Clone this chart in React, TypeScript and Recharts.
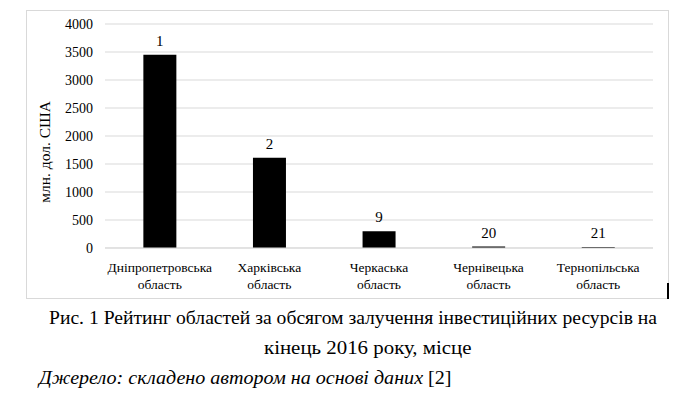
import { BarChart, Bar, XAxis, YAxis, CartesianGrid, LabelList, Label } from "recharts";

const regions = [
  "Дніпропетровська",
  "Харківська",
  "Черкаська",
  "Чернівецька",
  "Тернопільська",
];
const investment = [3450, 1610, 300, 25, 20];
const ranks = ["1", "2", "9", "20", "21"];
const yTicks = [0, 500, 1000, 1500, 2000, 2500, 3000, 3500, 4000];

const chartData = regions.map((name, i) => ({
  name,
  value: investment[i],
  rank: ranks[i],
}));

const FONT = "'Liberation Serif', 'Times New Roman', serif";

const RegionTick = ({ x, y, payload }: any) => (
  <text x={x} y={y} textAnchor="middle" style={{ fontFamily: FONT }} fontSize={13.5} fill="#000">
    <tspan x={x} dy={16}>{payload.value}</tspan>
    <tspan x={x} dy={17}>область</tspan>
  </text>
);

const captionLine = (left: number, top: number, scale: number): React.CSSProperties => ({
  position: "absolute",
  left,
  top,
  fontSize: 18,
  whiteSpace: "nowrap",
  color: "#000",
  fontFamily: FONT,
  transform: `scaleX(${scale})`,
  transformOrigin: "left top",
});

const App = () => {
  return (
    <div style={{ position: "absolute", left: 0, top: 0, width: 690, height: 397, background: "#fff", fontFamily: FONT }}>
      <div style={{ position: "absolute", left: 26, top: 10, width: 641, height: 287, border: "1px solid #d9d9d9" }}>
        <BarChart
          width={641}
          height={287}
          data={chartData}
          barCategoryGap="35%"
          style={{ fontFamily: FONT }}
          margin={{ top: 13, right: 15, left: 18, bottom: 0 }}
        >
          <CartesianGrid vertical={false} stroke="#d9d9d9" />
          <XAxis
            dataKey="name"
            height={50}
            axisLine={{ stroke: "#d9d9d9" }}
            tickLine={false}
            interval={0}
            tick={<RegionTick />}
          />
          <YAxis
            width={60}
            domain={[0, 4000]}
            ticks={yTicks}
            axisLine={false}
            tickLine={false}
            tickMargin={6}
            tick={{ fontFamily: FONT, fontSize: 14, fill: "#000" }}
          >
            <Label
              content={({ viewBox }: any) => {
                const cx = viewBox.x + 1;
                const cy = viewBox.y + viewBox.height / 2 + 16;
                return (
                  <text
                    x={cx}
                    y={cy}
                    transform={`rotate(-90 ${cx} ${cy})`}
                    textAnchor="middle"
                    dominantBaseline="middle"
                    style={{ fontFamily: FONT }}
                    fontSize={15.5}
                    fill="#000"
                  >
                    млн. дол. США
                  </text>
                );
              }}
            />
          </YAxis>
          <Bar dataKey="value" fill="#000" isAnimationActive={false}>
            <LabelList dataKey="rank" position="top" offset={9} style={{ fontFamily: FONT }} fontSize={15} fill="#000" />
          </Bar>
        </BarChart>
      </div>
      <div style={{ position: "absolute", left: 667, top: 283, width: 2, height: 16, background: "#000" }} />
      <div style={captionLine(49, 308, 1.09)}>
        Рис. 1 Рейтинг областей за обсягом залучення інвестиційних ресурсів на
      </div>
      <div style={captionLine(264, 338, 1.16)}>кінець 2016 року, місце</div>
      <div style={captionLine(39, 368, 1.115)}>
        <i>Джерело: складено автором на основі даних</i> [2]
      </div>
    </div>
  );
};

export default App;
